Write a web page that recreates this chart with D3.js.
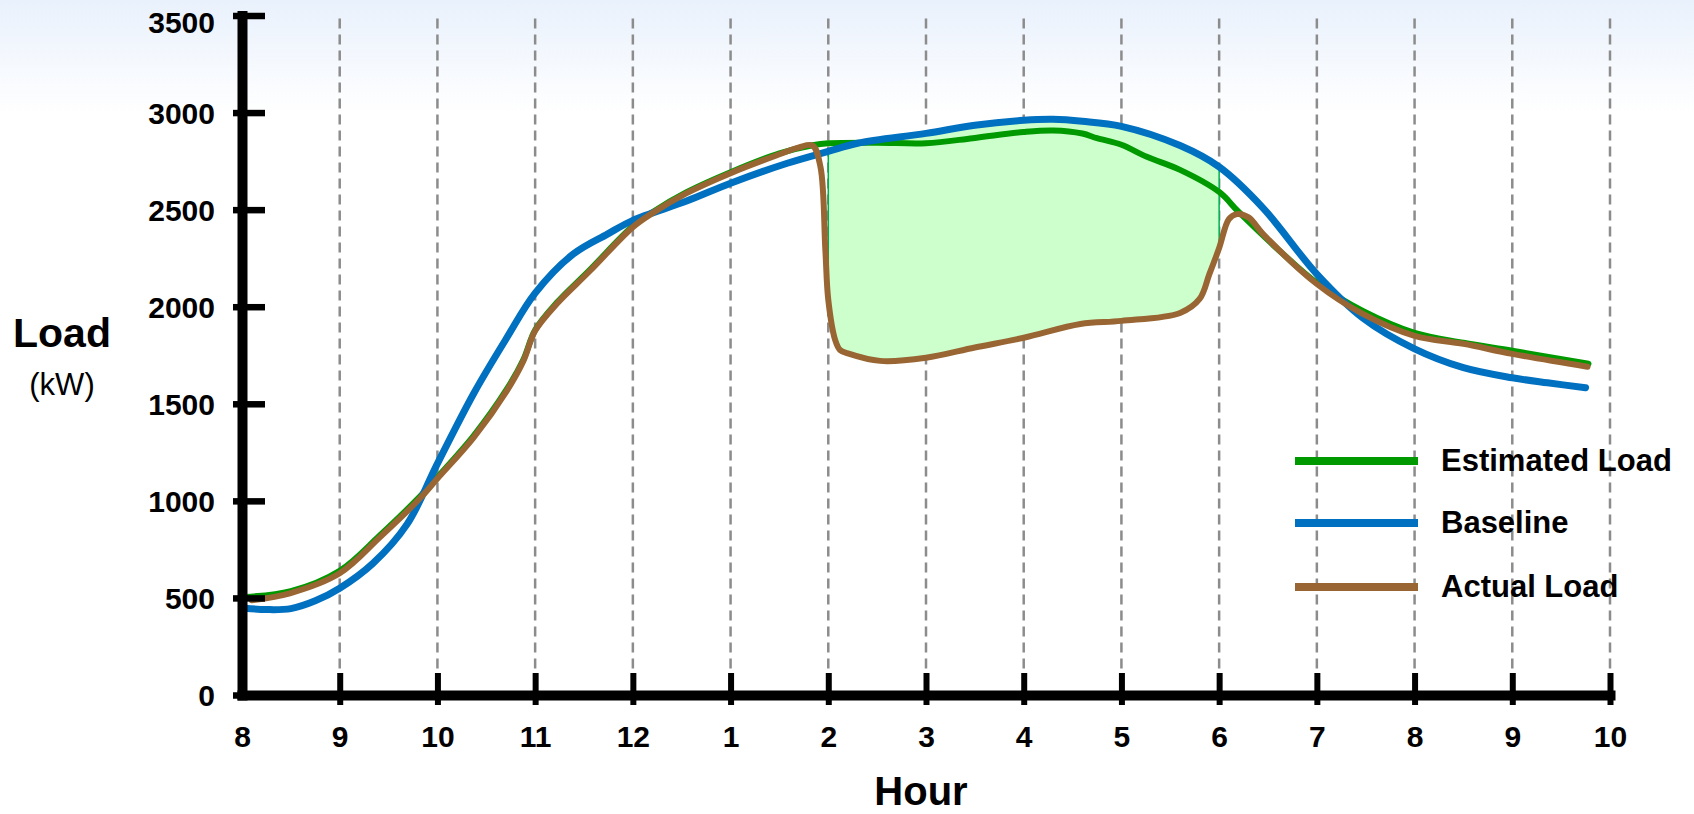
<!DOCTYPE html>
<html lang="en">
<head>
<meta charset="UTF-8">
<title>Load by Hour</title>
<script src="https://d3js.org/d3.v7.min.js"></script>
<style>
  body { margin: 0; background: #fff; }
  svg { display: block; font-family: "Liberation Sans", Arial, sans-serif; }
  .grid { stroke: #8c8c8c; stroke-width: 2.5px; stroke-dasharray: 10 6; }
  .series { fill: none; stroke-linecap: round; stroke-linejoin: round; }
  .shed { fill: #ccffcc; stroke: #00b050; stroke-width: 1.5px; }
  .title { font-weight: bold; fill: #000; }
  .legend text { font-size: 31px; font-weight: bold; fill: #000; }
</style>
</head>
<body>
<svg width="1694" height="814"></svg>
<script>
  // axis ticks
  const hourTicks = [8, 9, 10, 11, 12, 13, 14, 15, 16, 17, 18, 19, 20, 21, 22];
  const hourLabels = ["8", "9", "10", "11", "12", "1", "2", "3", "4", "5", "6", "7", "8", "9", "10"];
  const loadTicks = [0, 500, 1000, 1500, 2000, 2500, 3000, 3500];

  // Baseline (kW), hour of day
  const baseHours = [8.03, 8.25, 8.5, 8.75, 9.0, 9.34, 9.69, 10.0, 10.37, 10.71, 11.0, 11.39, 11.74, 12.0,
    12.55, 13.0, 13.58, 14.0, 14.3, 15.0, 15.5, 16.0, 16.3, 16.6, 17.0, 17.6, 18.0, 18.45, 19.0,
    19.47, 20.0, 20.5, 21.0, 21.36, 21.75];
  const baseKw = [447, 440, 445, 485, 550, 678, 880, 1192, 1552, 1840, 2070, 2271, 2374, 2445,
    2544, 2636, 2739, 2800, 2842, 2893, 2935, 2960, 2965, 2955, 2929, 2830, 2720, 2508, 2168,
    1942, 1783, 1686, 1634, 1608, 1583];

  // Estimated load (kW)
  const estHours = [8.03, 8.5, 9.0, 9.41, 9.82, 10.0, 10.37, 10.71, 10.88, 11.0, 11.22, 11.56, 12.0,
    12.2, 12.55, 13.0, 13.5, 13.84, 14.0, 14.5, 15.0, 15.48, 16.0, 16.3, 16.6, 16.75, 17.0, 17.26,
    17.6, 18.0, 18.2, 18.62, 19.0, 19.47, 20.0, 20.5, 21.0, 21.78];
  const estKw = [505, 535, 640, 822, 1022, 1122, 1335, 1575, 1728, 1880, 2020, 2190, 2415,
    2487, 2590, 2693, 2790, 2832, 2842, 2845, 2842, 2868, 2900, 2908, 2892, 2868, 2834, 2772,
    2705, 2591, 2488, 2287, 2122, 1978, 1865, 1814, 1773, 1706];

  // Actual load (kW)
  const actHours = [8.1, 8.49, 9.0, 9.41, 9.82, 10.0, 10.37, 10.71, 10.88, 11.0, 11.22, 11.56, 12.0,
    12.2, 12.55, 13.0, 13.5, 13.7, 13.84, 13.92, 13.97, 14.0, 14.07, 14.12, 14.2, 14.53, 15.0,
    15.5, 16.0, 16.58, 17.0, 17.6, 17.8, 17.9, 18.0, 18.1, 18.18, 18.3, 18.45, 19.0, 19.47,
    20.0, 20.5, 21.0, 21.77];
  const actKw = [488, 524, 627, 812, 1012, 1115, 1326, 1567, 1721, 1876, 2014, 2184, 2410,
    2482, 2585, 2688, 2785, 2821, 2830, 2720, 2293, 2035, 1829, 1777, 1760, 1721, 1737,
    1790, 1840, 1911, 1927, 1968, 2040, 2168, 2302, 2451, 2477, 2460, 2374, 2117, 1963,
    1850, 1809, 1757, 1691];

  // curtailment window (hours)
  const eventStart = 14;
  const eventEnd = 18;

  const seriesNames = ["Estimated Load", "Baseline", "Actual Load"];
  const seriesColors = ["#009900", "#0070c0", "#996633"];

  const svg = d3.select("svg");
  const width = +svg.attr("width");
  const height = +svg.attr("height");

  const x = d3.scaleLinear().domain([8, 22]).range([242, 1610]);
  const y = d3.scaleLinear().domain([0, 3500]).range([695, 15.5]);

  const baseline = d3.zip(baseHours, baseKw);
  const estimated = d3.zip(estHours, estKw);
  const actual = d3.zip(actHours, actKw);

  const curve = d3.curveCatmullRom.alpha(0.5);

  // soft blue wash at the top
  const defs = svg.append("defs");
  const grad = defs.append("linearGradient")
    .attr("id", "bg").attr("x1", 0).attr("y1", 0).attr("x2", 0).attr("y2", 1);
  grad.append("stop").attr("offset", "0").attr("stop-color", "#e9f1fc");
  grad.append("stop").attr("offset", "0.14").attr("stop-color", "#ffffff");
  svg.append("rect").attr("width", width).attr("height", height).attr("fill", "url(#bg)");

  // vertical dashed grid
  svg.append("g")
    .selectAll("line")
    .data(hourTicks.slice(1))
    .join("line")
    .attr("class", "grid")
    .attr("x1", d => x(d)).attr("x2", d => x(d))
    .attr("y1", y(3500) + 3).attr("y2", y(0) - 8);

  const line = d3.line()
    .x(d => x(d[0]))
    .y(d => y(d[1]))
    .curve(curve);

  // shaded reduction: under the baseline, above the actual load
  defs.append("clipPath").attr("id", "underBase")
    .append("path")
    .attr("d", d3.area()
      .x(d => x(d[0]))
      .y0(y(0))
      .y1(d => y(d[1]))
      .curve(curve)(baseline));

  svg.append("path")
    .attr("class", "shed")
    .attr("clip-path", "url(#underBase)")
    .attr("d", d3.area()
      .x(d => x(d[0]))
      .y0(y(3500))
      .y1(d => y(d[1]))
      .curve(curve)(actual.filter(d => d[0] >= eventStart && d[0] <= eventEnd)));

  // series lines
  const lines = [
    { data: estimated, color: seriesColors[0], w: 6 },
    { data: baseline, color: seriesColors[1], w: 7 },
    { data: actual, color: seriesColors[2], w: 6 }
  ];
  svg.append("g")
    .selectAll("path")
    .data(lines)
    .join("path")
    .attr("class", "series")
    .attr("stroke", d => d.color)
    .attr("stroke-width", d => d.w)
    .attr("d", d => line(d.data));

  // y axis
  const yAxis = svg.append("g")
    .attr("transform", `translate(${x(8)},0)`)
    .call(d3.axisLeft(y).tickValues(loadTicks).tickSizeOuter(0).tickFormat(d3.format("d")));
  yAxis.attr("font-family", null).attr("font-size", null);
  yAxis.select(".domain")
    .attr("stroke", "#000").attr("stroke-width", 10).attr("stroke-linecap", "square");
  yAxis.selectAll(".tick line")
    .attr("x1", -9).attr("x2", 23)
    .attr("stroke", "#000").attr("stroke-width", 6.5);
  yAxis.selectAll(".tick text")
    .attr("x", -27)
    .attr("dy", d => d === 3500 ? "0.58em" : "0.35em")
    .attr("font-size", 30).attr("font-weight", "bold").attr("fill", "#000");

  // x axis
  const xAxis = svg.append("g")
    .attr("transform", `translate(0,${y(0)})`)
    .call(d3.axisBottom(x).tickValues(hourTicks).tickSizeOuter(0)
      .tickFormat((d, i) => hourLabels[i]));
  xAxis.attr("font-family", null).attr("font-size", null);
  xAxis.select(".domain")
    .attr("stroke", "#000").attr("stroke-width", 10).attr("stroke-linecap", "square");
  xAxis.selectAll(".tick line")
    .attr("y1", -22).attr("y2", 10)
    .attr("stroke", "#000").attr("stroke-width", 6)
    .attr("display", d => d === 8 ? "none" : null);
  xAxis.selectAll(".tick text")
    .attr("y", 52).attr("dy", 0)
    .attr("font-size", 30).attr("font-weight", "bold").attr("fill", "#000");
  // keep y axis on top of the corner
  yAxis.raise();

  // axis titles
  svg.append("text").attr("class", "title")
    .attr("x", 62).attr("y", 347).attr("text-anchor", "middle")
    .attr("font-size", 41).text("Load");
  svg.append("text")
    .attr("x", 62).attr("y", 395).attr("text-anchor", "middle")
    .attr("font-size", 31).attr("fill", "#000").text("(kW)");
  svg.append("text").attr("class", "title")
    .attr("x", 921).attr("y", 805).attr("text-anchor", "middle")
    .attr("font-size", 40).text("Hour");

  // legend
  const legendY = [461, 523, 587];
  const legend = svg.append("g").attr("class", "legend")
    .selectAll("g")
    .data(seriesNames)
    .join("g")
    .attr("transform", (d, i) => `translate(0,${legendY[i]})`);
  legend.append("line")
    .attr("x1", 1295).attr("x2", 1418)
    .attr("stroke", (d, i) => seriesColors[i])
    .attr("stroke-width", 8);
  legend.append("text")
    .attr("x", 1441).attr("y", 10)
    .text(d => d);
</script>
</body>
</html>
